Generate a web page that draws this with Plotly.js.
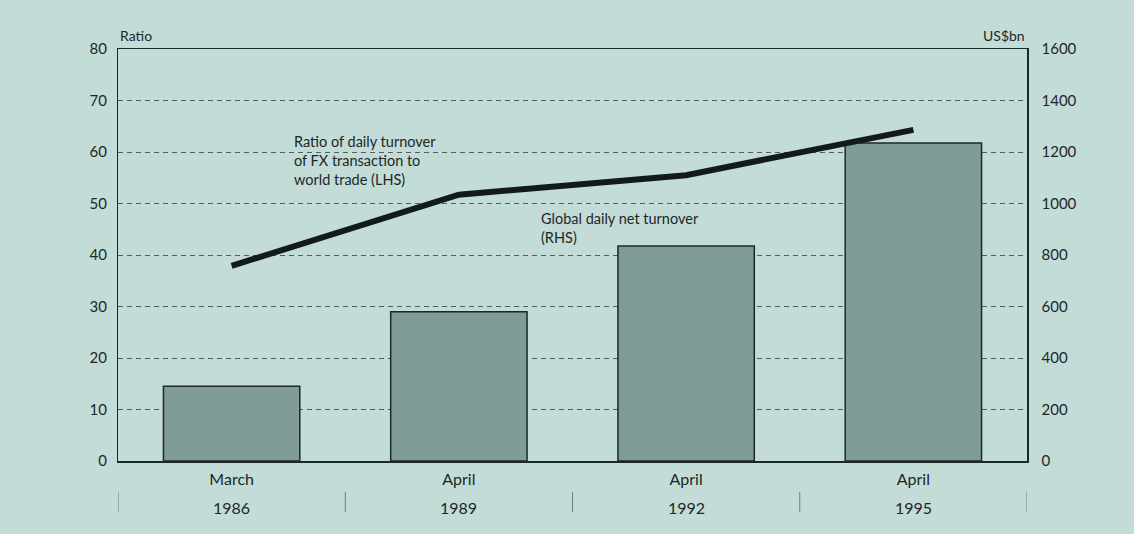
<!DOCTYPE html>
<html>
<head>
<meta charset="utf-8">
<script src="https://cdn.plot.ly/plotly-3.0.1.min.js"></script>
<style>
html,body{margin:0;padding:0;background:#c3dcd8;}
#chart{width:1134px;height:534px;}
</style>
</head>
<body>
<div id="chart"></div>
<script>
// Data
const months = ["March", "April", "April", "April"];
const years = ["1986", "1989", "1992", "1995"];
const categories = ["March 1986", "April 1989", "April 1992", "April 1995"];
const turnoverUSDbn = [290, 580, 835, 1235];     // Global daily net turnover (RHS)
const ratioFXtoTrade = [37.9, 51.7, 55.5, 64.3];  // Ratio (LHS)
const lhsTicks = [0, 10, 20, 30, 40, 50, 60, 70, 80];
const rhsTicks = [0, 200, 400, 600, 800, 1000, 1200, 1400, 1600];

const bg = "#c3dcd8";
const ink = "#1e2727";
const fontFam = "Lato, 'Open Sans', sans-serif";

const bars = {
  type: "bar",
  x: categories,
  y: turnoverUSDbn,
  yaxis: "y",
  marker: {color: "#7f9c99", line: {color: ink, width: 1.5}},
  hoverinfo: "skip"
};
const line = {
  type: "scatter",
  mode: "lines",
  x: categories,
  y: ratioFXtoTrade,
  yaxis: "y2",
  line: {color: "#141a1a", width: 6},
  hoverinfo: "skip"
};

const annotations = years.map((yr, i) => ({
  x: categories[i], xref: "x", y: -0.114, yref: "paper",
  text: yr, showarrow: false, yanchor: "middle",
  font: {family: fontFam, size: 16, color: ink}
}));
annotations.push(
  {x: 0, xref: "paper", y: 1.0, yref: "paper", xanchor: "left", yanchor: "bottom", yshift: 3,
   text: "Ratio", showarrow: false, font: {family: fontFam, size: 14, color: ink}},
  {x: 1, xref: "paper", y: 1.0, yref: "paper", xanchor: "right", yanchor: "bottom", yshift: 3,
   text: "US$bn", showarrow: false, font: {family: fontFam, size: 14, color: ink}},
  {x: categories[0], xref: "x", xshift: 60, y: 64.0, yref: "y2", xanchor: "left", yanchor: "top",
   align: "left", showarrow: false,
   text: "Ratio of daily turnover<br>of FX transaction to<br>world trade (LHS)",
   font: {family: fontFam, size: 14.5, color: ink}},
  {x: categories[1], xref: "x", xshift: 80, y: 49.1, yref: "y2", xanchor: "left", yanchor: "top",
   align: "left", showarrow: false,
   text: "Global daily net turnover<br>(RHS)",
   font: {family: fontFam, size: 14.5, color: ink}}
);

const shapes = [];
for (let i = 0; i <= categories.length; i++) {
  shapes.push({type: "line", xref: "x", yref: "paper", x0: i - 0.5, x1: i - 0.5,
    y0: -0.075, y1: -0.124, line: {color: "#6f7f7e", width: 1}});
}

const layout = {
  width: 1134, height: 534,
  margin: {l: 118, r: 107, t: 49, b: 73},
  paper_bgcolor: bg, plot_bgcolor: bg,
  showlegend: false,
  bargap: 0.4,
  font: {family: fontFam, size: 16, color: ink},
  xaxis: {
    type: "category",
    tickvals: categories, ticktext: months,
    showline: true, linecolor: ink, linewidth: 1.5, mirror: true,
    ticks: "", showgrid: false, zeroline: false,
    ticklabelstandoff: 3,
    tickfont: {family: fontFam, size: 16, color: ink},
    range: [-0.5, 3.5]
  },
  yaxis: {
    side: "right", range: [0, 1600], tickvals: rhsTicks,
    showline: true, linecolor: ink, linewidth: 1.5, mirror: true,
    showgrid: true, gridcolor: "#4f5f5e", gridwidth: 1, griddash: "5px,4px",
    zeroline: false, ticks: "", ticklabelstandoff: 10,
    tickfont: {family: fontFam, size: 15, color: ink}
  },
  yaxis2: {
    side: "left", overlaying: "y", range: [0, 80], tickvals: lhsTicks,
    showgrid: false, zeroline: false, showline: false, ticks: "", ticklabelstandoff: 10,
    tickfont: {family: fontFam, size: 15, color: ink}
  },
  annotations: annotations,
  shapes: shapes
};

Plotly.newPlot("chart", [bars, line], layout, {displayModeBar: false, staticPlot: true});
</script>
</body>
</html>
